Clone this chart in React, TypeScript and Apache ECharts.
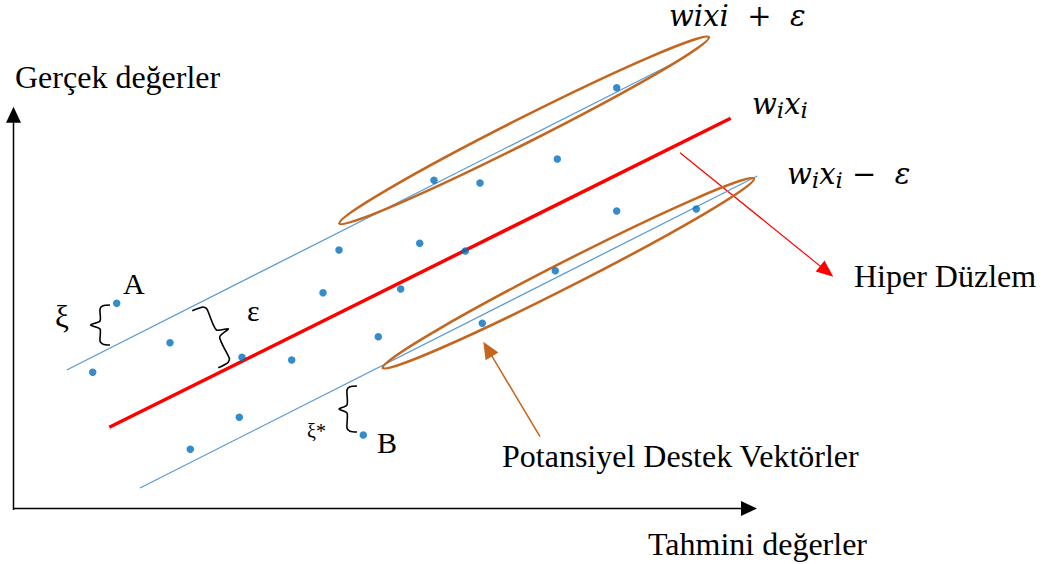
import React, { useEffect, useRef } from "react";
import * as echarts from "echarts";

// Canvas coordinate frame of the diagram (x to the right, y downward)
const frameX = [0, 1043];
const frameY = [0, 564];

// Observations (dots)
const dotX = [116.7, 92.7, 170, 242, 291.7, 239.3, 190.3, 363.3, 323, 339, 378.3, 400.7, 419.7, 434, 480, 465.3, 557.3, 616.7, 616.7, 555.3, 482.3, 696.3];
const dotY = [303.3, 372.3, 342.7, 357.3, 360, 417.3, 449.3, 435, 292.7, 250, 336.7, 289, 243.3, 180.3, 183, 251, 159, 87.7, 211, 270.7, 323.3, 209];

// Margin lines and hyperplane (end points)
const upperMargin = [[66.7, 370], [670, 65]];
const hyperplane = [[109.3, 427.3], [730.7, 118.3]];
const lowerMargin = [[140, 488], [757.3, 176]];

// Support-vector ellipses: tip1 x, tip1 y, tip2 x, tip2 y
const ellipseTips = [
  [338.3, 224, 710, 36.7],
  [381.7, 368.3, 755, 178.3],
];

// Braces: end0 x, end0 y, end1 x, end1 y
const braceEnds = [
  [100, 345, 100, 305],
  [205, 305, 231, 362],
  [347, 432, 347, 386],
];

// Arrows: from x, from y, to x, to y
const axisArrows = [
  [13.5, 510, 13.5, 106.7],
  [13, 508.5, 757, 508.5],
];
const hyperArrow = [[680, 152.7, 833.3, 276.7]];
const supportArrow = [[540, 436.7, 483.3, 341.7]];

// Labels
const yAxisLabel = "Gerçek değerler";
const xAxisLabel = "Tahmini değerler";
const hyperLabel = "Hiper Düzlem";
const supportLabel = "Potansiyel Destek Vektörler";
const pointLabels = ["A", "B"];
const slackLabels = ["ξ", "ξ*"];
const epsLabel = "ε";

const SERIF = "'Liberation Serif', 'Times New Roman', serif";
const MATH = "'DejaVu Serif', serif";

function arrowSeries(data: number[][], color: string, lw: number, hl: number, hw: number) {
  return {
    type: "custom",
    coordinateSystem: "cartesian2d",
    clip: false,
    silent: true,
    encode: { x: [0, 2], y: [1, 3] },
    data,
    renderItem: (_p: any, api: any) => {
      const a = api.coord([api.value(0), api.value(1)]);
      const b = api.coord([api.value(2), api.value(3)]);
      const dx = b[0] - a[0];
      const dy = b[1] - a[1];
      const L = Math.hypot(dx, dy);
      const ux = dx / L;
      const uy = dy / L;
      const bx = b[0] - ux * hl;
      const by = b[1] - uy * hl;
      return {
        type: "group",
        children: [
          { type: "line", shape: { x1: a[0], y1: a[1], x2: bx + ux * 1, y2: by + uy * 1 }, style: { stroke: color, lineWidth: lw } },
          {
            type: "polygon",
            shape: { points: [[b[0], b[1]], [bx - (uy * hw) / 2, by + (ux * hw) / 2], [bx + (uy * hw) / 2, by - (ux * hw) / 2]] },
            style: { fill: color },
          },
        ],
      };
    },
  };
}

function lineSeries(data: number[][], color: string, width: number) {
  return {
    type: "line",
    data,
    symbol: "none",
    silent: true,
    lineStyle: { color, width },
    z: 2,
  };
}

export default function App() {
  const ref = useRef<HTMLDivElement>(null);

  useEffect(() => {
    if (!ref.current) return;
    const chart = echarts.init(ref.current, null, { renderer: "svg" });

    const ellipseSeries = {
      type: "custom",
      coordinateSystem: "cartesian2d",
      clip: false,
      silent: true,
      encode: { x: [0, 2], y: [1, 3] },
      data: ellipseTips,
      z: 3,
      renderItem: (_p: any, api: any) => {
        const a = api.coord([api.value(0), api.value(1)]);
        const b = api.coord([api.value(2), api.value(3)]);
        const cx = (a[0] + b[0]) / 2;
        const cy = (a[1] + b[1]) / 2;
        const ang = Math.atan2(b[1] - a[1], b[0] - a[0]);
        const rx = Math.hypot(b[0] - a[0], b[1] - a[1]) / 2 - 1.2;
        return {
          type: "ellipse",
          x: cx,
          y: cy,
          rotation: -ang,
          shape: { cx: 0, cy: 0, rx, ry: 12.5 },
          style: { fill: "none", stroke: "#C4661F", lineWidth: 2.6 },
        };
      },
    };

    const braceSeries = {
      type: "custom",
      coordinateSystem: "cartesian2d",
      clip: false,
      silent: true,
      encode: { x: [0, 2], y: [1, 3] },
      data: braceEnds,
      renderItem: (params: any, api: any) => {
        const p0 = api.coord([api.value(0), api.value(1)]);
        const p1 = api.coord([api.value(2), api.value(3)]);
        const dx = p1[0] - p0[0];
        const dy = p1[1] - p0[1];
        const L = Math.hypot(dx, dy);
        const ux = dx / L;
        const uy = dy / L;
        const nx = uy;
        const ny = -ux;
        const depth = [9.5, 11.5, 8][params.dataIndex];
        const hook = [10, 14, 10][params.dataIndex];
        const r = 4;
        const local = [
          [0, -hook],
          [0.8, -3],
          [r, 0],
          [L / 2 - r, 0],
          [L / 2, depth],
          [L / 2 + r, 0],
          [L - r, 0],
          [L - 0.8, -3],
          [L, -hook],
        ];
        const pts = local.map(([s, t]) => [p0[0] + ux * s + nx * t, p0[1] + uy * s + ny * t]);
        return {
          type: "polyline",
          shape: { points: pts, smooth: 0.25 },
          style: { stroke: "#000", lineWidth: 1.6, fill: "none" },
        };
      },
    };

    const txt = (text: string, x: number, y: number, fontSize: number, extra: any = {}) => ({
      type: "text",
      x,
      y,
      silent: true,
      style: {
        text,
        fontSize,
        fontFamily: SERIF,
        fill: "#000",
        align: "left",
        verticalAlign: "middle",
        ...extra,
      },
    });

    const mathRich = {
      m: { fontSize: 29, fontFamily: MATH, fontStyle: "italic", fill: "#000" },
      s: { fontSize: 23, fontFamily: MATH, fontStyle: "italic", fill: "#000", padding: [12, 0, 0, 0] },
      o: { fontSize: 29, fontFamily: MATH, fill: "#000" },
    };

    chart.setOption({
      animation: false,
      grid: { left: 0, right: 0, top: 0, bottom: 0, containLabel: false },
      xAxis: { type: "value", min: frameX[0], max: frameX[1], show: false },
      yAxis: { type: "value", min: frameY[0], max: frameY[1], inverse: true, show: false },
      series: [
        lineSeries(upperMargin, "#5B9BD5", 1.3),
        lineSeries(lowerMargin, "#5B9BD5", 1.3),
        lineSeries(hyperplane, "#FF0000", 3.5),
        ellipseSeries,
        braceSeries,
        arrowSeries(axisArrows, "#000", 1.5, 16, 15),
        arrowSeries(hyperArrow, "#FF0000", 1.2, 17, 14),
        arrowSeries(supportArrow, "#C4661F", 1.5, 17, 15),
        {
          type: "scatter",
          data: dotX.map((x, i) => [x, dotY[i]]),
          symbol: "circle",
          symbolSize: 7.5,
          silent: true,
          itemStyle: { color: "#0070C0" },
          z: 5,
        },
      ],
      graphic: [
        txt(yAxisLabel, 15, 77, 32),
        txt(xAxisLabel, 648, 544, 32),
        txt(hyperLabel, 854, 276, 32),
        txt(supportLabel, 502, 456, 32),
        txt(pointLabels[0], 123, 283, 30),
        txt(pointLabels[1], 377, 442, 30),
        txt(slackLabels[0], 55, 316, 31),
        txt(slackLabels[1], 307, 431, 20),
        txt(epsLabel, 247, 310, 30),
        {
          type: "text",
          x: 669,
          y: 16,
          silent: true,
          style: { text: "{m|wixi}{o|  +  }{m|ε}", rich: mathRich, align: "left", verticalAlign: "middle" },
        },
        {
          type: "text",
          x: 752,
          y: 104,
          silent: true,
          style: { text: "{m|w}{s|i}{m|x}{s|i}", rich: mathRich, align: "left", verticalAlign: "middle" },
        },
        {
          type: "text",
          x: 787,
          y: 174,
          silent: true,
          style: { text: "{m|w}{s|i}{m|x}{s|i}{o| −  }{m|ε}", rich: mathRich, align: "left", verticalAlign: "middle" },
        },
      ],
    });

    return () => chart.dispose();
  }, []);

  return <div ref={ref} style={{ position: "absolute", left: 0, top: 0, width: 1043, height: 564, background: "#fff" }} />;
}
